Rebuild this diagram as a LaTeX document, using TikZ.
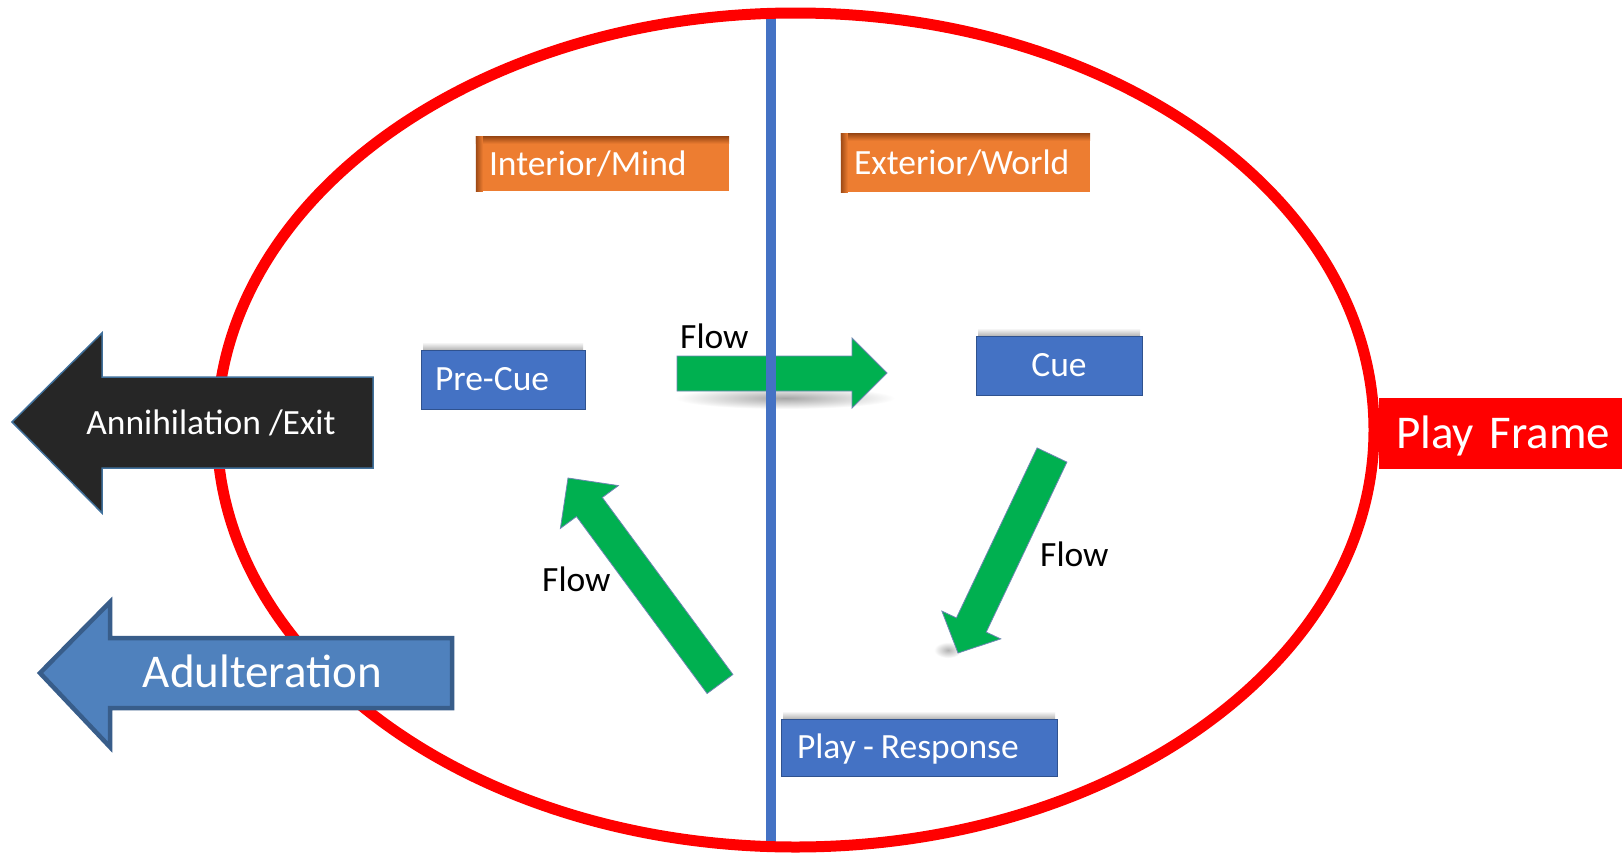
\documentclass[tikz,border=0pt]{standalone}
\usepackage{fontspec}
\setmainfont{Carlito}
\usetikzlibrary{calc}
\definecolor{boxblue}{HTML}{4472C4}
\definecolor{boxedge}{HTML}{2F528F}
\definecolor{orng}{HTML}{ED7D31}
\definecolor{orngedge}{HTML}{9E4A15}
\definecolor{flowgreen}{HTML}{00B050}
\definecolor{darkarrow}{HTML}{262626}
\definecolor{darkedge}{HTML}{41719C}
\definecolor{adfill}{HTML}{4F81BD}
\definecolor{adedge}{HTML}{385D8A}
\definecolor{frame}{HTML}{FF0000}
\begin{document}
\begin{tikzpicture}[x=1bp,y=-1bp,
  txt/.style={font=\fontsize{35.5bp}{40bp}\selectfont, text height=22.4bp, text depth=0pt},
  bigtxt/.style={font=\fontsize{47bp}{52bp}\selectfont, text height=29.6bp, text depth=0pt},
  bluebox/.style={txt, fill=boxblue, draw=boxedge, line width=1bp, text=white, inner ysep=0pt},
  orangebox/.style={txt, fill=orng, text=white, inner ysep=0pt},
  flowlabel/.style={txt, text=black, anchor=west, inner sep=0pt},
  greenarrow/.style={fill=flowgreen, draw=boxedge!70, line width=0.8bp, line join=miter},
  topshadow/.style={top color=white, bottom color=black!30},
]
\useasboundingbox (0,0) rectangle (1622,856);
\fill[white] (0,0) rectangle (1622,856);

% ---------- boxes ----------
\node[orangebox, minimum height=54bp, text width=227bp, inner xsep=13bp, align=left] (interior) at (602.5,164) {\phantom{Interior/Mind}};
\node[orangebox, minimum height=58bp, text width=223bp, inner xsep=13bp, align=left] (exterior) at (965.5,163) {\phantom{Exterior/World}};
\foreach \n in {interior,exterior}{
  \shade[top color=orngedge, bottom color=orng] (\n.north west) rectangle ($(\n.north east)+(0,7)$);
  \shade[left color=orngedge, right color=orng] (\n.north west) rectangle ($(\n.south west)+(7,0)$);
}
\node[txt, text=white, anchor=west, inner sep=0pt] (interiortext) at ($(interior.west)+(13,0)$) {Interior/Mind};
\node[txt, text=white, anchor=west, inner sep=0pt] (exteriortext) at ($(exterior.west)+(13,0)$) {Exterior/World};

\shade[topshadow] (423,342) rectangle (583,350);
\shade[topshadow] (978,328) rectangle (1140,336);
\shade[topshadow] (783,711) rectangle (1055,719);
\node[bluebox, minimum height=59bp, text width=136bp, inner xsep=14bp, align=left] (precue) at (503,379.5) {Pre-Cue};
\node[bluebox, minimum width=166bp, minimum height=59bp] (cue) at (1059,365.5) {Cue};
\node[bluebox, minimum height=57bp, text width=244bp, inner xsep=16bp, align=left] (response) at (919,747.5) {Play\hspace{0.2em}-\hspace{0.2em}Response};

% ---------- horizontal flow arrow ----------
\shade[inner color=black!35, outer color=white] (785,398) ellipse [x radius=110, y radius=11];
\coordinate (hA) at (677,373);
\coordinate (hB) at (887,373);
\draw[greenarrow] (677,356) -- (852,356) -- (852,338) -- (hB) -- (852,408) -- (852,391) -- (677,391) -- cycle;
\node[flowlabel] (flowtop) at (680,337.5) {Flow};

% ---------- divider and play frame ----------
\coordinate (divtop) at (771,13);
\coordinate (divbot) at (771,848);
\draw[boxblue, line width=10bp] (divtop) -- (divbot);
\draw[frame, line width=11bp] (795.5,430) ellipse [x radius=578.5, y radius=417];
\node[bigtxt, fill=frame, text=white, anchor=west, minimum height=71bp, text width=215bp, inner xsep=17bp, align=left] (playframe) at (1379,433.5) {Play Frame};

% ---------- exit arrows ----------
\draw[fill=darkarrow, draw=darkedge, line width=1.5bp, line join=miter]
  (12,422) -- (102,333) -- (102,377) -- (373,377) -- (373,468) -- (102,468) -- (102,513) -- cycle;
\node[txt, text=white] (annih) at (211,423) {Annihilation /Exit};
\draw[fill=adfill, draw=adedge, line width=4.5bp, line join=miter]
  (40,673) -- (110,602) -- (110,638) -- (452,638) -- (452,708) -- (110,708) -- (110,747) -- cycle;
\node[bigtxt, text=white] (adult) at (262.5,673) {Adulteration};

% ---------- diagonal flow arrows ----------
\shade[inner color=black!30, outer color=white] (948,650) ellipse [x radius=14, y radius=8];
\draw[greenarrow] (732.9,674.5) -- (602.3,497.5) -- (618.4,485.6) -- (568,478) -- (560.4,528.4) -- (576.5,516.5) -- (707.1,693.5) -- cycle;
\node[flowlabel] (flowleft) at (542,580) {Flow};
\draw[greenarrow] (1066.9,462.1) -- (986.2,632.1) -- (1000.7,638.9) -- (958,653) -- (941.9,611.1) -- (956.4,617.9) -- (1037.1,447.9) -- cycle;
\node[flowlabel] (flowright) at (1040,555) {Flow};
\end{tikzpicture}
\end{document}
